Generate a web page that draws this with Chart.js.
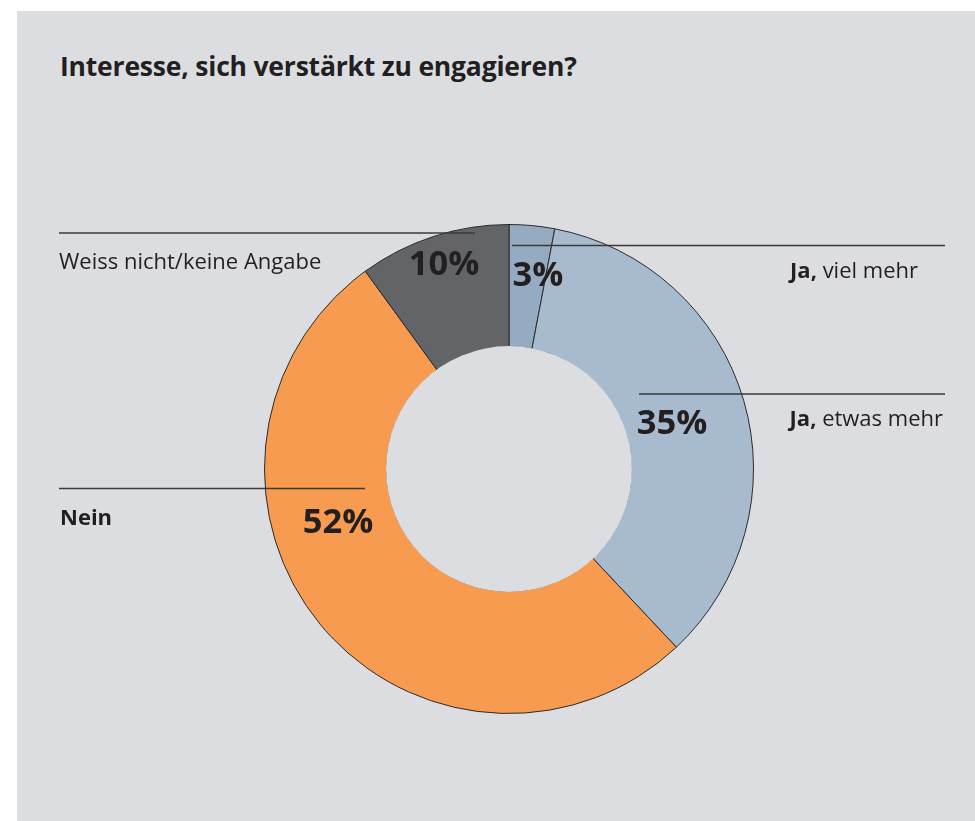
<!DOCTYPE html>
<html>
<head>
<meta charset="utf-8">
<script src="https://cdn.jsdelivr.net/npm/chart.js@4.4.1/dist/chart.umd.min.js"></script>
<style>
  body { margin: 0; background: #ffffff; font-family: "Open Sans", sans-serif; }
  #panel { position: absolute; left: 17px; top: 11px; width: 958px; height: 810px; background: #dcdde0; }
  #title { position: absolute; left: 43px; top: 37px; margin: 0; font-size: 26.5px; font-weight: 700; color: #231f20; letter-spacing: -0.2px; }
  #c { position: absolute; left: 0; top: 0; }
</style>
</head>
<body>
<div id="panel">
  <h2 id="title">Interesse, sich verstärkt zu engagieren?</h2>
  <canvas id="c" width="958" height="810"></canvas>
</div>
<script>
// data
const categories = ["Ja, viel mehr", "Ja, etwas mehr", "Nein", "Weiss nicht/keine Angabe"];
const boldPart = ["Ja,", "Ja,", "Nein", ""];
const values = [3, 35, 52, 10];
const sliceColors = ["#94abc2", "#a8bacd", "#f79b50", "#636467"];

// where the labels go, relative to the center of the ring
const pctPos = [[29, -183], [163, -35], [-171, 64], [-65, -194]];
const labelPos = [[409, -191, "right"], [434, -43, "right"], [-449, 56, "left"], [-450, -200, "left"]];
const leaderLines = [[3, 436, -223.5], [130, 436, -75], [-450, -144, 19.5], [-450, -34, -236]];

const bg = "#dcdde0";
const ink = "#231f20";
const labelFont = "22px 'Open Sans'";
const labelBold = "bold 22px 'Open Sans'";

const labelPlugin = {
  id: "labels",
  afterDatasetsDraw(chart) {
    const ctx = chart.ctx;
    const arc = chart.getDatasetMeta(0).data[0];
    const cx = arc.x, cy = arc.y;
    // hide the inner border of the ring
    ctx.save();
    ctx.fillStyle = bg;
    ctx.beginPath();
    ctx.arc(cx, cy, arc.innerRadius + 0.7, 0, Math.PI * 2);
    ctx.fill();

    // leader lines
    ctx.strokeStyle = "#3a3a3a";
    ctx.lineWidth = 1.3;
    leaderLines.forEach(l => {
      ctx.beginPath();
      ctx.moveTo(cx + l[0], cy + l[2]);
      ctx.lineTo(cx + l[1], cy + l[2]);
      ctx.stroke();
    });

    // percentages
    ctx.fillStyle = ink;
    ctx.textBaseline = "alphabetic";
    ctx.textAlign = "center";
    ctx.font = "bold 34.5px 'Open Sans'";
    values.forEach((v, i) => {
      ctx.fillText(v + "%", cx + pctPos[i][0], cy + pctPos[i][1]);
    });

    // category names, first part bold
    ctx.textAlign = "left";
    categories.forEach((name, i) => {
      const b = boldPart[i];
      const rest = name.slice(b.length);
      ctx.font = labelBold;
      const wb = ctx.measureText(b).width;
      ctx.font = labelFont;
      const wr = ctx.measureText(rest).width;
      let x = cx + labelPos[i][0];
      if (labelPos[i][2] === "right") x -= wb + wr;
      const y = cy + labelPos[i][1];
      ctx.font = labelBold;
      ctx.fillText(b, x, y);
      ctx.font = labelFont;
      ctx.fillText(rest, x + wb, y);
    });
    ctx.restore();
  }
};

new Chart(document.getElementById("c"), {
  type: "doughnut",
  data: {
    labels: categories,
    datasets: [{
      data: values,
      backgroundColor: sliceColors,
      borderColor: "#2b2b2b",
      borderWidth: 1
    }]
  },
  options: {
    responsive: false,
    animation: false,
    devicePixelRatio: 1,
    cutout: "50%",
    layout: { padding: { left: 247, right: 221, top: 213, bottom: 107 } },
    plugins: { legend: { display: false }, tooltip: { enabled: false } }
  },
  plugins: [labelPlugin]
});
</script>
</body>
</html>
